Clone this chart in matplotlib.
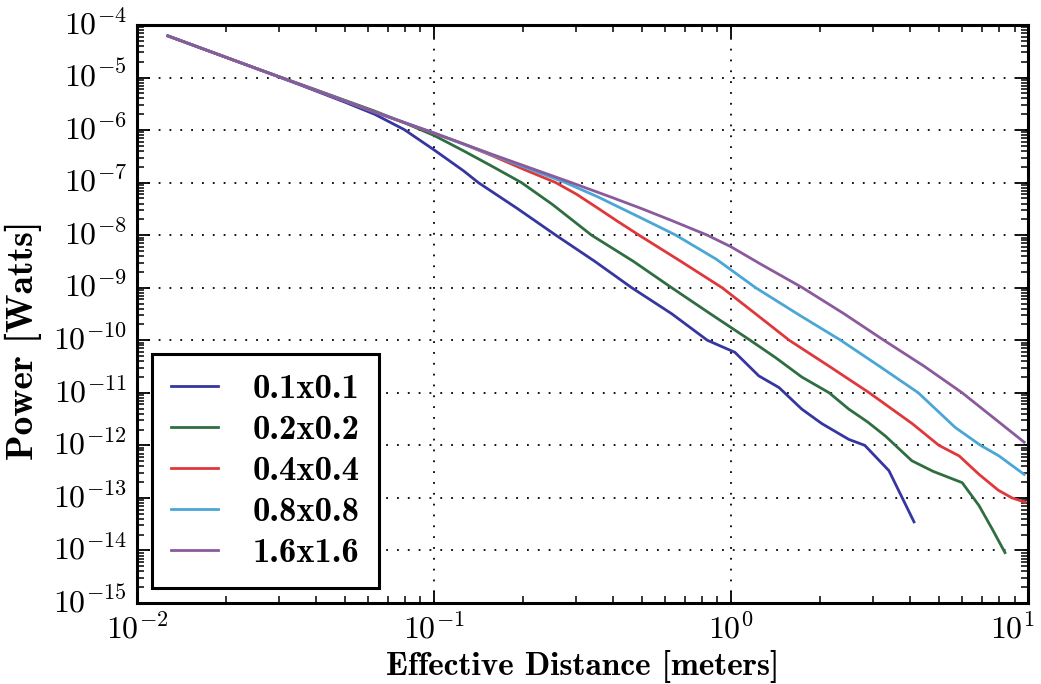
import matplotlib
matplotlib.use('Agg')
import matplotlib.pyplot as plt
import matplotlib.transforms as mtransforms
from matplotlib.ticker import LogLocator, NullFormatter

plt.rcParams['font.family'] = 'serif'
plt.rcParams['font.serif'] = ['cmr10']
plt.rcParams['mathtext.fontset'] = 'cm'
plt.rcParams['axes.unicode_minus'] = False
plt.rcParams['axes.formatter.use_mathtext'] = True

# power vs effective distance for several aperture sizes
labels = ['0.1x0.1', '0.2x0.2', '0.4x0.4', '0.8x0.8', '1.6x1.6']
colors = ['#3636a0', '#2f6e40', '#e0383a', '#4aa6d6', '#8a5a9c']

x_01 = [0.0127, 0.0251, 0.0355, 0.0501, 0.0631, 0.0794, 0.1, 0.126, 0.141,
        0.191, 0.257, 0.347, 0.463, 0.631, 0.832, 1.03, 1.24, 1.45, 1.73,
        2.02, 2.49, 2.82, 3.40, 4.13]
y_01 = [6.2e-5, 1.5e-5, 7.2e-6, 3.4e-6, 2.0e-6, 1.02e-6, 4.2e-7, 1.66e-7,
        1.0e-7, 3.2e-8, 1.0e-8, 3.2e-9, 1.0e-9, 3.2e-10, 1.0e-10, 5.9e-11,
        2.1e-11, 1.26e-11, 4.9e-12, 2.6e-12, 1.3e-12, 1.0e-12, 3.3e-13, 3.5e-14]

x_02 = [0.0127, 0.0251, 0.0398, 0.0631, 0.0794, 0.1, 0.126, 0.158, 0.197,
        0.251, 0.339, 0.468, 0.631, 0.851, 1.16, 1.41, 1.73, 2.14, 2.49, 2.88,
        3.31, 4.06, 4.79, 5.68, 6.0, 6.84, 7.59, 8.36]
y_02 = [6.2e-5, 1.5e-5, 5.9e-6, 2.3e-6, 1.38e-6, 7.9e-7, 4.0e-7, 2.0e-7, 1.0e-7,
        3.8e-8, 1.0e-8, 3.2e-9, 1.0e-9, 3.2e-10, 1.0e-10, 4.7e-11, 2.0e-11,
        1.0e-11, 4.9e-12, 2.8e-12, 1.5e-12, 5.1e-13, 3.2e-13, 2.2e-13,
        1.95e-13, 7.1e-14, 2.5e-14, 9.1e-15]

x_04 = [0.0127, 0.0251, 0.0398, 0.0631, 0.1, 0.126, 0.158, 0.2, 0.257, 0.302,
        0.355, 0.417, 0.49, 0.676, 0.933, 1.2, 1.57, 2.14, 2.92, 4.07, 5.01,
        5.86, 6.84, 7.94, 8.83, 9.77]
y_04 = [6.2e-5, 1.5e-5, 5.8e-6, 2.2e-6, 8.7e-7, 5.4e-7, 3.2e-7, 1.8e-7,
        1.0e-7, 6.0e-8, 3.3e-8, 1.8e-8, 1.0e-8, 3.2e-9, 1.0e-9, 3.3e-10,
        1.0e-10, 3.2e-11, 1.0e-11, 2.6e-12, 1.0e-12, 6.3e-13, 2.8e-13,
        1.4e-13, 1.0e-13, 8.3e-14]

x_08 = [0.0127, 0.0251, 0.0398, 0.0631, 0.1, 0.158, 0.2, 0.277, 0.355, 0.5,
        0.652, 0.891, 1.21, 1.7, 2.34, 3.16, 4.27, 5.68, 6.92, 7.98, 9.7]
y_08 = [6.2e-5, 1.5e-5, 5.8e-6, 2.2e-6, 8.8e-7, 3.3e-7, 2.0e-7, 1.0e-7,
        5.4e-8, 2.1e-8, 1.0e-8, 3.5e-9, 1.0e-9, 3.0e-10, 1.0e-10, 3.2e-11,
        1.0e-11, 2.2e-12, 1.0e-12, 6.3e-13, 2.8e-13]

x_16 = [0.0127, 0.0251, 0.0398, 0.0631, 0.1, 0.158, 0.29, 0.398, 0.5, 0.631,
        0.832, 1.0, 1.26, 1.74, 2.4, 3.27, 4.47, 6.0, 9.7]
y_16 = [6.2e-5, 1.5e-5, 5.8e-6, 2.2e-6, 8.8e-7, 3.4e-7, 1.0e-7, 5.2e-8,
        3.2e-8, 1.9e-8, 1.0e-8, 6.0e-9, 2.8e-9, 1.0e-9, 3.2e-10, 1.0e-10,
        3.2e-11, 1.0e-11, 1.15e-12]

series = [(x_01, y_01), (x_02, y_02), (x_04, y_04), (x_08, y_08), (x_16, y_16)]

fig = plt.figure(figsize=(10.41, 6.84), dpi=100)
ax = fig.add_axes([0.1316, 0.1184, 0.856, 0.8451])

for (xs, ys), lab, col in zip(series, labels, colors):
    ax.plot(xs, ys, color=col, lw=2.0, label=lab)

ax.set_xscale('log')
ax.set_yscale('log')
ax.set_xlim(1e-2, 1e1)
ax.set_ylim(1e-15, 1e-4)
ax.yaxis.set_major_locator(LogLocator(base=10, numticks=20))
ax.yaxis.set_minor_locator(LogLocator(base=10, subs=range(2, 10), numticks=20))
ax.yaxis.set_minor_formatter(NullFormatter())

ax.grid(True, which='major', color='black', linestyle=(0, (1, 5)), lw=1.3)
ax.tick_params(which='both', direction='in', top=True, right=True,
               labelsize=23, pad=7)
ax.tick_params(which='major', length=9, width=1.3)
ax.tick_params(which='minor', length=5, width=1.1)
for sp in ax.spines.values():
    sp.set_linewidth(2.2)

ax.set_xlabel('Effective Distance [meters]', fontsize=24, family='cmb10',
              labelpad=4)
ax.set_ylabel('Power [Watts]', fontsize=27, family='cmb10')
ax.yaxis.set_label_coords(-0.107, 0.455)

leg = ax.legend(loc='lower left', prop={'family': 'cmb10', 'size': 25},
                fancybox=False, edgecolor='black', framealpha=1,
                handlelength=1.35, borderaxespad=0.43, labelspacing=0.28,
                handletextpad=1.0, borderpad=0.55)
leg.get_frame().set_linewidth(2.2)

# nudge tick labels: 10^1 in from the edge, y labels up a little
fig.canvas.draw()
for tick in ax.xaxis.get_major_ticks():
    if abs(tick.get_loc() - 10.0) < 1e-6:
        lab = tick.label1
        lab.set_transform(lab.get_transform() +
                          mtransforms.ScaledTranslation(-0.16, 0, fig.dpi_scale_trans))
for tick in ax.yaxis.get_major_ticks():
    lab = tick.label1
    lab.set_transform(lab.get_transform() +
                      mtransforms.ScaledTranslation(0, 0.04, fig.dpi_scale_trans))

fig.savefig('out.png', dpi=100)
